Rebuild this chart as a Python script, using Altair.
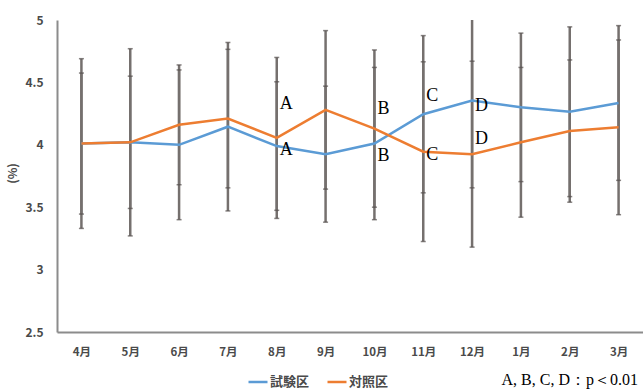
import altair as alt
import pandas as pd

# Monthly means and standard deviations (%)
months = ["4月", "5月", "6月", "7月", "8月", "9月", "10月", "11月", "12月", "1月", "2月", "3月"]
test_mean = [4.01, 4.02, 4.00, 4.145, 3.99, 3.925, 4.01, 4.245, 4.355, 4.30, 4.265, 4.335]
test_sd = [0.68, 0.75, 0.60, 0.675, 0.515, 0.545, 0.61, 0.63, 0.70, 0.595, 0.68, 0.62]
ctrl_mean = [4.01, 4.02, 4.16, 4.21, 4.055, 4.28, 4.13, 3.945, 3.925, 4.02, 4.11, 4.14]
ctrl_sd = [0.565, 0.53, 0.48, 0.555, 0.645, 0.635, 0.63, 0.72, 0.745, 0.60, 0.57, 0.70]
series_names = ["試験区", "対照区"]
series_colors = ["#5B9BD5", "#ED7D31"]

# Significance letters: month, series, letter
sig_months = ["8月", "8月", "10月", "10月", "11月", "11月", "12月", "12月"]
sig_series = ["対照区", "試験区", "対照区", "試験区", "試験区", "対照区", "試験区", "対照区"]
sig_letters = ["A", "A", "B", "B", "C", "C", "D", "D"]
note_text = "A, B, C, D：p＜0.01"

# vertical pixel offsets of each letter from its point
sig_dy = [-34, 4, -20, 12, -18, 3, 6, -15]

rows = []
for name, means, sds in [("試験区", test_mean, test_sd), ("対照区", ctrl_mean, ctrl_sd)]:
    for m, v, s in zip(months, means, sds):
        rows.append({"month": m, "series": name, "value": v, "lo": v - s, "hi": v + s})
df = pd.DataFrame(rows)

W, H = 586, 312
LABEL_FONT = "Noto Sans CJK JP"
LABEL_COLOR = "#4a4a4a"

x_enc = alt.X(
    "month:N",
    sort=months,
    scale=alt.Scale(type="point", padding=0.5),
    axis=alt.Axis(
        title=None,
        labelAngle=0,
        ticks=False,
        labelFont=LABEL_FONT,
        labelFontWeight="bold",
        labelFontSize=11.5,
        labelColor=LABEL_COLOR,
        labelPadding=14,
        domainColor="#8c8c8c",
        domainWidth=2,
        grid=False,
    ),
)
y_scale = alt.Scale(domain=[2.5, 5], nice=False, zero=False)
y_enc = alt.Y(
    "value:Q",
    scale=y_scale,
    axis=alt.Axis(
        title="(%)",
        values=[2.5, 3, 3.5, 4, 4.5, 5],
        format=".1~f",
        ticks=False,
        grid=False,
        labelFont=LABEL_FONT,
        labelFontWeight="bold",
        labelFontSize=12,
        labelColor=LABEL_COLOR,
        labelPadding=14,
        domainColor="#8c8c8c",
        domainWidth=2,
        titleFont=LABEL_FONT,
        titleFontWeight="bold",
        titleFontSize=12,
        titleColor=LABEL_COLOR,
        titleX=-45,
        titleY=153,
        titleAngle=-90,
        titleBaseline="middle",
    ),
)

base = alt.Chart(df)

bars = base.mark_rule(color="#75706e", strokeWidth=2.5, clip=True).encode(
    x=x_enc, y=alt.Y("lo:Q", scale=y_scale), y2="hi:Q"
)
caps_lo = base.mark_tick(color="#55504e", size=5, thickness=1.5, clip=True).encode(
    x=x_enc, y=alt.Y("lo:Q", scale=y_scale)
)
caps_hi = base.mark_tick(color="#55504e", size=5, thickness=1.5, clip=True).encode(
    x=x_enc, y=alt.Y("hi:Q", scale=y_scale)
)

lines = base.mark_line(strokeWidth=2.5).encode(
    x=x_enc,
    y=y_enc,
    color=alt.Color(
        "series:N",
        scale=alt.Scale(domain=series_names, range=series_colors),
        legend=alt.Legend(
            title=None,
            orient="none",
            direction="horizontal",
            legendX=190,
            legendY=351,
            symbolType="stroke",
            symbolSize=361,
            symbolStrokeWidth=2.5,
            labelFont=LABEL_FONT,
            labelFontWeight="bold",
            labelFontSize=13,
            labelColor=LABEL_COLOR,
            labelOffset=1,
            columnPadding=12,
        ),
    ),
    detail="series:N",
)

layers = [bars, caps_lo, caps_hi, lines]

lookup = {(r["month"], r["series"]): r["value"] for r in rows}
for m, s, letter, dy in zip(sig_months, sig_series, sig_letters, sig_dy):
    d = pd.DataFrame([{"month": m, "value": lookup[(m, s)], "letter": letter}])
    layers.append(
        alt.Chart(d)
        .mark_text(
            font="Liberation Serif",
            fontSize=18,
            color="#000000",
            align="left",
            baseline="middle",
            dx=3,
            dy=dy,
        )
        .encode(x=x_enc, y=alt.Y("value:Q", scale=y_scale), text="letter:N")
    )

note = (
    alt.Chart(pd.DataFrame({"note": [note_text]}))
    .mark_text(font="Liberation Serif", fontSize=16, color="#000000", align="right", baseline="middle")
    .encode(text="note:N", x=alt.value(581), y=alt.value(360))
)
layers.append(note)

chart = (
    alt.layer(*layers)
    .properties(
        width=W,
        height=H,
        autosize="none",
        padding={"left": 57, "top": 20, "right": 0, "bottom": 58},
    )
    .configure_view(stroke=None)
)

chart.save("out.html", embed_options={"renderer": "svg", "actions": False})
